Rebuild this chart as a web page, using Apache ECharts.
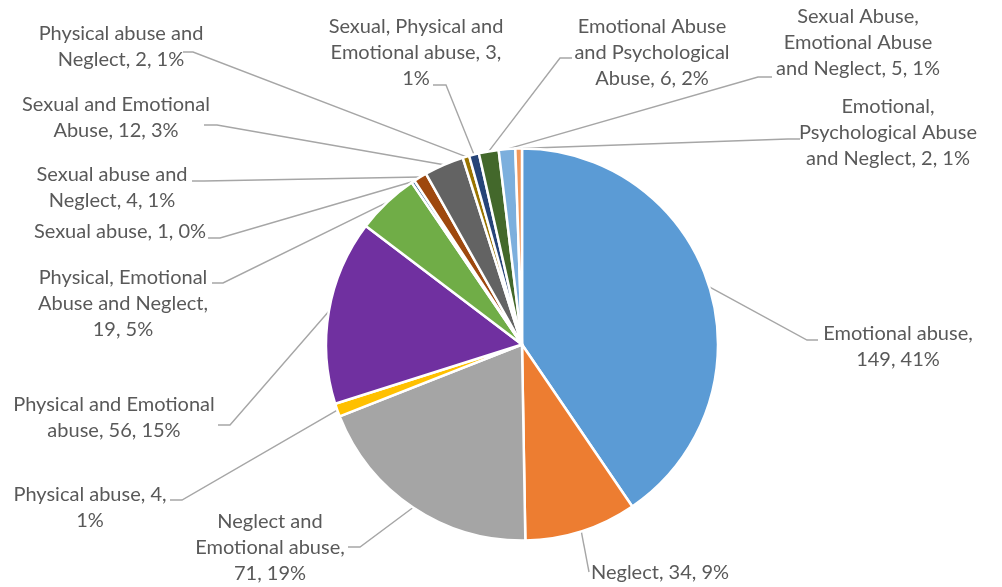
<!DOCTYPE html>
<html>
<head>
<meta charset="utf-8">
<title>Types of abuse</title>
<script src="https://cdn.jsdelivr.net/npm/echarts@6/dist/echarts.min.js"></script>
<style>
  html, body { margin: 0; padding: 0; background: #ffffff; }
  #chart { width: 1002px; height: 587px; }
</style>
</head>
<body>
<div id="chart"></div>
<script>
// Categories of abuse, clockwise from twelve o'clock
const categories = [
  'Emotional abuse',
  'Neglect',
  'Neglect and Emotional abuse',
  'Physical abuse',
  'Physical and Emotional abuse',
  'Physical, Emotional Abuse and Neglect',
  'Sexual abuse',
  'Sexual abuse and Neglect',
  'Sexual and Emotional Abuse',
  'Physical abuse and Neglect',
  'Sexual, Physical and Emotional abuse',
  'Emotional Abuse and Psychological Abuse',
  'Sexual Abuse, Emotional Abuse and Neglect',
  'Emotional, Psychological Abuse and Neglect'
];

// Number of cases in each category
const counts = [149, 34, 71, 4, 56, 19, 1, 4, 12, 2, 3, 6, 5, 2];

// Slice colours
const colors = [
  '#5B9BD5', '#ED7D31', '#A5A5A5', '#FFC000', '#7030A0', '#70AD47', '#255E91',
  '#9E480E', '#636363', '#997300', '#264478', '#43682B', '#7CAFDD', '#F1975A'
];

// Words per line for each wrapped label
const labelWrap = [
  [2, 2], [3], [2, 2, 2], [3, 1], [3, 3], [2, 3, 2], [4],
  [3, 3], [3, 3], [3, 3], [3, 3, 1], [2, 2, 3], [2, 2, 4], [1, 2, 4]
];

// Label placement: text block centre, leader end point and elbow offset
const labelPlacement = [
  { x: 898, y: 347, end: [818, 340], elbow: -11 },
  { x: 660, y: 573, end: [589, 572], elbow: 0 },
  { x: 270, y: 548, end: [348, 547], elbow: 12 },
  { x: 90,  y: 508, end: [170, 500], elbow: 12 },
  { x: 114, y: 418, end: [218, 425], elbow: 12 },
  { x: 123, y: 304, end: [212, 283], elbow: 11 },
  { x: 120, y: 232, end: [208, 238], elbow: 12 },
  { x: 112, y: 188, end: [192, 181], elbow: 12 },
  { x: 116, y: 118, end: [204, 125], elbow: 13 },
  { x: 121, y: 47,  end: [183, 52],  elbow: 10 },
  { x: 416, y: 53,  end: [433, 85],  elbow: 13 },
  { x: 652, y: 53,  end: [572, 58],  elbow: -12 },
  { x: 858, y: 43,  end: [772, 77],  elbow: -14 },
  { x: 888, y: 133, end: [800, 139], elbow: -12 }
];

function wrapLabel(text, wrap) {
  const words = text.split(' ');
  const lines = [];
  let k = 0;
  wrap.forEach(function (n) {
    lines.push(words.slice(k, k + n).join(' '));
    k += n;
  });
  if (k < words.length) lines[lines.length - 1] += ' ' + words.slice(k).join(' ');
  return lines.join('\n');
}

const chart = echarts.init(document.getElementById('chart'), null, { renderer: 'canvas' });

chart.setOption({
  animation: false,
  backgroundColor: '#ffffff',
  series: [{
    type: 'pie',
    center: [522, 344.5],
    radius: 196,
    startAngle: 90,
    clockwise: true,
    percentPrecision: 0,
    avoidLabelOverlap: false,
    itemStyle: { borderColor: '#ffffff', borderWidth: 2.5 },
    label: {
      show: true,
      position: 'outside',
      color: '#595959',
      fontFamily: 'Lato',
      fontSize: 20,
      lineHeight: 26,
      align: 'center',
      formatter: function (p) {
        return wrapLabel(p.name + ', ' + p.value + ', ' + p.percent + '%', labelWrap[p.dataIndex]);
      }
    },
    labelLine: {
      show: true,
      length: 10,
      length2: 10,
      smooth: false,
      lineStyle: { color: '#A6A6A6', width: 1.4 }
    },
    labelLayout: function (params) {
      const place = labelPlacement[params.dataIndex];
      const anchor = params.labelLinePoints[0];
      const end = place.end;
      const elbow = [end[0] + place.elbow, end[1]];
      return {
        x: place.x,
        y: place.y,
        align: 'center',
        verticalAlign: 'middle',
        labelLinePoints: [anchor, elbow, end]
      };
    },
    data: categories.map(function (name, i) {
      return { name: name, value: counts[i], itemStyle: { color: colors[i] } };
    })
  }]
});
</script>
</body>
</html>
